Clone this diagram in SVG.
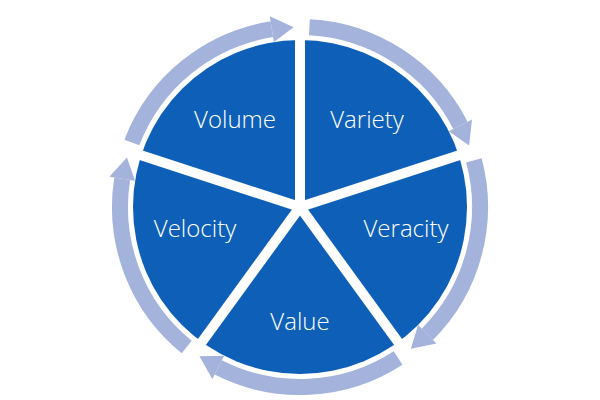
<svg xmlns="http://www.w3.org/2000/svg" width="600" height="400" viewBox="0 0 600 400">
<style>
.lbl{font-family:"Open Sans","Liberation Sans",sans-serif;font-weight:300;font-size:24px;fill:#fff;text-anchor:middle}
.arc{fill:none;stroke:#a4b3dc;stroke-width:16}
.head{fill:#a4b3dc}
.spoke{stroke:#fff;stroke-width:10}
</style>
<rect width="600" height="400" fill="#fff"/>
<g id="pie">
<circle cx="300" cy="207" r="167" fill="#0e5fb8"/>
</g>
<g id="connectors">
<g id="seg">
<path class="arc" d="M309.4,27.2 A180,180 0 0 1 460.4,125.3"/>
<polygon class="head" points="448.8,131.2 472.0,119.4 469.1,145.4"/>
</g>
<use href="#seg" transform="rotate(72 300 207)"/>
<use href="#seg" transform="rotate(144 300 207)"/>
<use href="#seg" transform="rotate(216 300 207)"/>
<use href="#seg" transform="rotate(288 300 207)"/>
</g>
<g id="spokes">
<line class="spoke" x1="300" y1="207" x2="300" y2="35"/>
<line class="spoke" x1="300" y1="207" x2="300" y2="35" transform="rotate(72 300 207)"/>
<line class="spoke" x1="300" y1="207" x2="300" y2="35" transform="rotate(144 300 207)"/>
<line class="spoke" x1="300" y1="207" x2="300" y2="35" transform="rotate(216 300 207)"/>
<line class="spoke" x1="300" y1="207" x2="300" y2="35" transform="rotate(288 300 207)"/>
</g>
<g id="volume"><text class="lbl" x="235" y="128">Volume</text></g>
<g id="variety"><text class="lbl" x="367" y="128">Variety</text></g>
<g id="velocity"><text class="lbl" x="195" y="237">Velocity</text></g>
<g id="veracity"><text class="lbl" x="406" y="237">Veracity</text></g>
<g id="value"><text class="lbl" x="300" y="330">Value</text></g>
</svg>
